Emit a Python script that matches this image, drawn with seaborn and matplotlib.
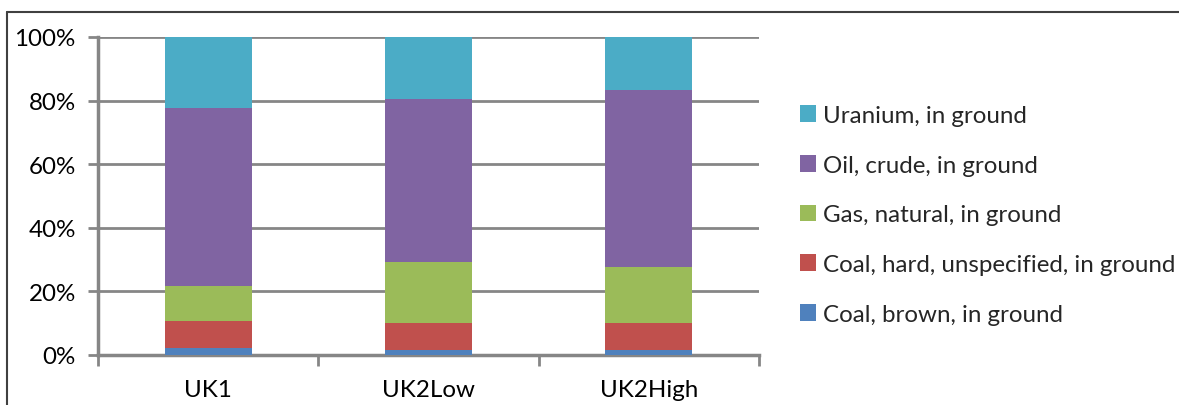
import matplotlib
matplotlib.use("Agg")
import matplotlib.pyplot as plt
import seaborn as sns
import pandas as pd
import numpy as np
from matplotlib.lines import Line2D
from matplotlib.patches import Patch

categories = ["UK1", "UK2Low", "UK2High"]
series_names = ["Coal, brown, in ground", "Coal, hard, unspecified, in ground",
                "Gas, natural, in ground", "Oil, crude, in ground", "Uranium, in ground"]
coal_brown = [2.1, 1.7, 1.5]
coal_hard = [8.7, 8.5, 8.7]
gas_natural = [10.8, 19.1, 17.4]
oil_crude = [56.1, 51.1, 55.7]
uranium = [22.3, 19.6, 16.7]
colors = ["#4F81BD", "#C0504D", "#9BBB59", "#8064A2", "#4BACC6"]
ytick_labels = ["0%", "20%", "40%", "60%", "80%", "100%"]

sns.set_theme(style="white")
plt.rcParams["font.family"] = ["Lato", "DejaVu Sans"]

FS = 17.4

values = [coal_brown, coal_hard, gas_natural, oil_crude, uranium]
cum = np.cumsum(np.array(values), axis=0)
totals = cum[-1]
cum_pct = cum / totals * 100.0

fig = plt.figure(figsize=(11.79, 4.06), dpi=100)
ax = fig.add_axes([98 / 1179, 50 / 406, (759 - 98) / 1179, (356 - 38) / 406])

for i in range(len(series_names) - 1, -1, -1):
    df = pd.DataFrame({"cat": categories, "val": cum_pct[i]})
    sns.barplot(data=df, x="cat", y="val", color=colors[i], width=0.395,
                saturation=1, ax=ax, linewidth=0, zorder=3)

ax.set_ylim(0, 100)
ax.set_xlim(-0.5, 2.5)
ax.set_yticks(np.arange(0, 101, 20))
ax.set_yticklabels(ytick_labels)
ax.set_xlabel("")
ax.set_ylabel("")
ax.yaxis.grid(True, color="#868686", linewidth=2, zorder=0)
ax.set_axisbelow(True)
for s in ["top", "right"]:
    ax.spines[s].set_visible(False)
for s in ["left", "bottom"]:
    ax.spines[s].set_color("#868686")
    ax.spines[s].set_linewidth(2.5)
ax.set_xticks([0, 1, 2])
ax.tick_params(axis="x", which="major", length=0, pad=17, labelsize=FS, colors="black")
ax.set_xticks([-0.5, 0.5, 1.5, 2.5], minor=True)
ax.tick_params(axis="x", which="minor", length=8, width=2, color="#868686", bottom=True)
ax.tick_params(axis="y", length=7, width=2, color="#868686", left=True, labelsize=FS,
               pad=9, labelcolor="black")

handles = [Patch(facecolor=colors[i], edgecolor="none") for i in range(len(series_names) - 1, -1, -1)]
labels = [series_names[i] for i in range(len(series_names) - 1, -1, -1)]
fig.legend(handles, labels, loc="center left", bbox_to_anchor=(800 / 1179, 0.468),
           frameon=False, fontsize=FS, handlelength=0.68, handleheight=0.68,
           handletextpad=0.28, labelspacing=1.19, borderpad=0, borderaxespad=0)

fig.add_artist(Line2D([7 / 1179, 7 / 1179], [0, (406 - 13) / 406], transform=fig.transFigure,
                      color="#404040", linewidth=1.5))
fig.add_artist(Line2D([7 / 1179, 1], [(406 - 13) / 406, (406 - 13) / 406], transform=fig.transFigure,
                      color="#404040", linewidth=1.5))

fig.savefig("out.png", dpi=100)
